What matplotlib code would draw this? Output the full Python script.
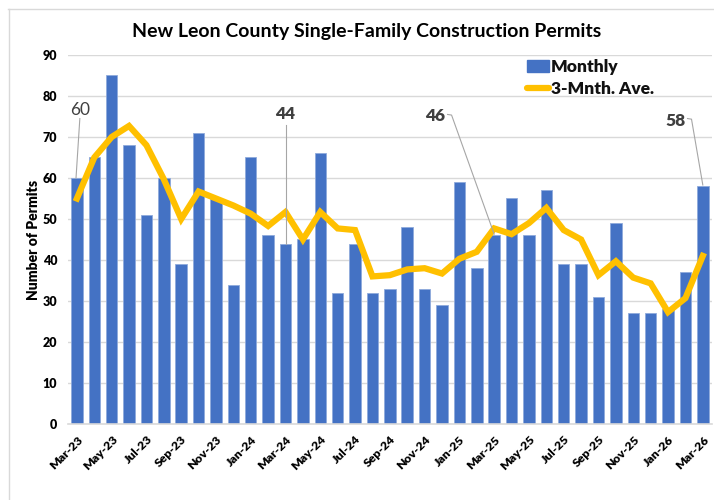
import matplotlib
matplotlib.use("Agg")
import matplotlib.pyplot as plt
from matplotlib.lines import Line2D
from matplotlib.patches import Patch

months = ["Mar-23","Apr-23","May-23","Jun-23","Jul-23","Aug-23","Sep-23","Oct-23","Nov-23","Dec-23",
          "Jan-24","Feb-24","Mar-24","Apr-24","May-24","Jun-24","Jul-24","Aug-24","Sep-24","Oct-24",
          "Nov-24","Dec-24","Jan-25","Feb-25","Mar-25","Apr-25","May-25","Jun-25","Jul-25","Aug-25",
          "Sep-25","Oct-25","Nov-25","Dec-25","Jan-26","Feb-26","Mar-26"]
monthly = [60, 65, 85, 68, 51, 60, 39, 71, 55, 34,
           65, 46, 44, 45, 66, 32, 44, 32, 33, 48,
           33, 29, 59, 38, 46, 55, 46, 57, 39, 39,
           31, 49, 27, 27, 28, 37, 58]
ave3 = [55, 65, 70, 72.7, 68, 59.7, 50, 56.7, 55, 53.3,
        51.3, 48.3, 51.7, 45, 51.7, 47.7, 47.3, 36, 36.3, 37.7,
        38, 36.7, 40.3, 42, 47.7, 46.3, 49, 52.7, 47.3, 45,
        36.3, 39.7, 35.7, 34.3, 27.3, 30.7, 41]
labeled = {"Mar-23": 60, "Mar-24": 44, "Mar-25": 46, "Mar-26": 58}

FONT = ["Lato", "DejaVu Sans"]
plt.rcParams["font.family"] = FONT

fig = plt.figure(figsize=(7.14, 5.0), dpi=100)
ax = fig.add_axes([0.0955, 0.152, 0.901, 0.738])

x = list(range(len(months)))
ax.bar(x, monthly, width=0.66, color="#4472C4", edgecolor="#8FAADC", linewidth=0.6, zorder=2)
ax.plot(x, ave3, color="#FFC000", linewidth=4.5, solid_joinstyle="miter", zorder=3)

ax.set_xlim(-0.5, len(months) - 0.5)
ax.set_ylim(0, 90)
ax.set_yticks(range(0, 91, 10))
ax.set_xticks(x[::2])
ax.set_xticklabels(months[::2], rotation=45, ha="right", rotation_mode="anchor",
                   fontsize=8.8, fontweight="heavy")
for t in ax.get_yticklabels():
    t.set_fontsize(9)
    t.set_fontweight("heavy")
ax.tick_params(axis="y", length=0, pad=8)
ax.tick_params(axis="x", length=0, pad=7)
ax.grid(axis="y", color="#D9D9D9", linewidth=1.0, zorder=0)
ax.set_axisbelow(True)
for s in ["top", "right", "left"]:
    ax.spines[s].set_visible(False)
ax.spines["bottom"].set_color("#D9D9D9")
ax.spines["bottom"].set_linewidth(1.2)

ax.set_ylabel("Number of Permits", fontsize=10, fontweight="heavy", labelpad=2)

# Data labels with leader lines
offsets = {"Mar-23": (0.17, 16.5), "Mar-24": (0, 31.5), "Mar-25": (-3.4, 29.0), "Mar-26": (-1.6, 16.0)}
weights = {"Mar-23": "normal", "Mar-24": "heavy", "Mar-25": "heavy", "Mar-26": "heavy"}
for m, v in labeled.items():
    i = months.index(m)
    dx, dy = offsets[m]
    tx, ty = i + dx, v + dy
    ax.text(tx, ty, str(v), ha="center", va="center", fontsize=12.5,
            fontweight=weights[m], color="#404040", zorder=5)
    if m == "Mar-23":
        ax.plot([tx, i - 0.05], [ty - 2.0, v], color="#A6A6A6", lw=0.8, zorder=4)
    elif m == "Mar-24":
        ax.plot([tx, tx], [ty - 2.6, v], color="#A6A6A6", lw=0.8, zorder=4)
    else:
        ax.plot([tx + 0.72, tx + 0.95, i], [ty + 0.5, ty + 0.35, v + 0.3],
                color="#A6A6A6", lw=0.8, zorder=4)

handles = [Patch(facecolor="#4472C4", edgecolor="#4472C4"),
           Line2D([0], [0], color="#FFC000", lw=4.5, solid_capstyle="round")]
leg = ax.legend(handles, ["Monthly", "3-Mnth. Ave."], loc="upper left",
                bbox_to_anchor=(0.695, 1.022), frameon=False,
                prop={"family": FONT, "weight": "heavy", "size": 12.5},
                handlelength=1.25, handletextpad=0.12, labelspacing=0.33,
                borderaxespad=0.3)
for t in leg.get_texts():
    t.set_color("#111111")

fig.text(0.514, 0.937, "New Leon County Single-Family Construction Permits",
         ha="center", va="center", fontsize=14, fontweight="bold", color="#000000")

# chart area border (top and left visible)
fig.add_artist(Line2D([8/714, 1.0], [1 - 8.5/500, 1 - 8.5/500], color="#D9D9D9", lw=1.0))
fig.add_artist(Line2D([8.5/714, 8.5/714], [0, 1 - 8.5/500], color="#D9D9D9", lw=1.0))

fig.savefig("out.png", dpi=100)
